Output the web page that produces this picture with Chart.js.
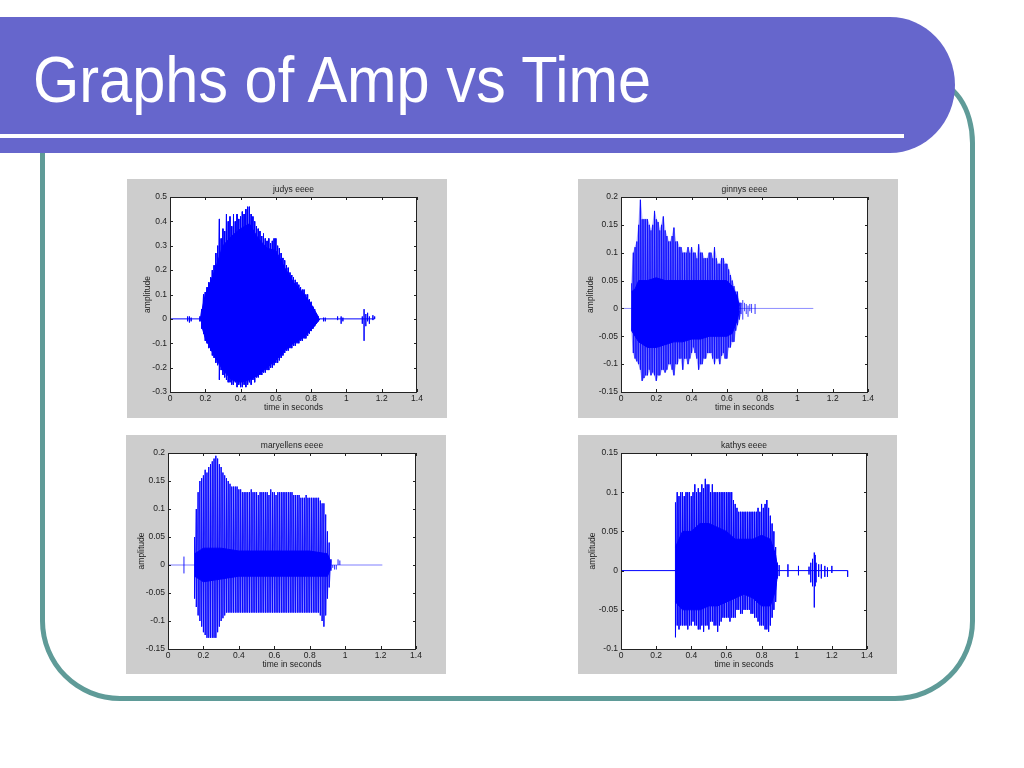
<!DOCTYPE html>
<html>
<head>
<meta charset="utf-8">
<script src="https://cdn.jsdelivr.net/npm/chart.js@4.4.1/dist/chart.umd.min.js"></script>
<style>
body { margin:0; width:1024px; height:768px; background:#fff; position:relative; overflow:hidden; font-family:"Liberation Sans", Arial, sans-serif; }
#frame { position:absolute; left:40px; top:78px; width:935px; height:623px; box-sizing:border-box; border:5px solid #5f9b98; border-radius:0 45px 80px 80px / 0 65px 80px 80px; }
#banner { position:absolute; left:0; top:17px; width:955px; height:136px; background:#6666cc; border-radius:0 65px 65px 0 / 0 68px 68px 0; }
#rule { position:absolute; left:0; top:134px; width:904px; height:4px; background:#fff; }
#title { position:absolute; left:33px; top:47px; font-size:65px; line-height:65px; color:#fff; transform:scaleX(0.915); transform-origin:0 0; white-space:nowrap; }
.panel { position:absolute; background:#cdcdcd; }
</style>
</head>
<body>
<div id="frame"></div>
<div id="banner"></div>
<div id="rule"></div>
<div id="title">Graphs of Amp vs Time</div>
<canvas id="c1" class="panel" width="320" height="239" style="left:127px;top:179px"></canvas>
<canvas id="c2" class="panel" width="320" height="239" style="left:578px;top:179px"></canvas>
<canvas id="c3" class="panel" width="320" height="239" style="left:126px;top:435px"></canvas>
<canvas id="c4" class="panel" width="319" height="239" style="left:578px;top:435px"></canvas>
<script>
// shared tick labels
var timeTicks = [0, 0.2, 0.4, 0.6, 0.8, 1, 1.2, 1.4];

// ---- judys eeee ----
var judyTime = [0.17,0.18,0.19,0.20,0.21,0.22,0.23,0.24,0.25,0.26,0.27,0.28,0.29,0.30,0.31,0.32,0.33,0.34,0.35,0.36,0.37,0.38,0.39,0.40,0.41,0.42,0.43,0.44,0.45,0.46,0.47,0.48,0.49,0.50,0.51,0.52,0.53,0.54,0.55,0.56,0.57,0.58,0.59,0.60,0.61,0.62,0.63,0.64,0.65,0.66,0.67,0.68,0.69,0.70,0.71,0.72,0.73,0.74,0.75,0.76,0.77,0.78,0.79,0.80,0.81,0.82,0.83,0.84,0.85];
var judyUp = [0.01,0.04,0.10,0.11,0.13,0.15,0.17,0.20,0.22,0.27,0.30,0.41,0.33,0.37,0.36,0.43,0.40,0.42,0.38,0.43,0.40,0.43,0.41,0.42,0.44,0.43,0.45,0.46,0.46,0.43,0.42,0.40,0.38,0.37,0.36,0.34,0.35,0.33,0.32,0.33,0.31,0.32,0.33,0.33,0.30,0.29,0.27,0.25,0.24,0.22,0.21,0.19,0.18,0.17,0.16,0.15,0.14,0.13,0.12,0.12,0.10,0.10,0.08,0.07,0.05,0.04,0.02,0.01,0.00];
var judyLow = [-0.01,-0.04,-0.06,-0.09,-0.10,-0.12,-0.13,-0.15,-0.16,-0.18,-0.19,-0.25,-0.21,-0.23,-0.24,-0.25,-0.26,-0.26,-0.27,-0.27,-0.26,-0.28,-0.27,-0.28,-0.28,-0.27,-0.28,-0.27,-0.26,-0.27,-0.25,-0.26,-0.24,-0.24,-0.23,-0.23,-0.22,-0.22,-0.21,-0.21,-0.20,-0.20,-0.19,-0.18,-0.18,-0.17,-0.16,-0.15,-0.14,-0.13,-0.13,-0.12,-0.12,-0.11,-0.11,-0.10,-0.10,-0.09,-0.09,-0.08,-0.08,-0.07,-0.06,-0.05,-0.04,-0.03,-0.02,-0.01,0.00];
var judyCoreTime = [0.18,0.20,0.25,0.30,0.35,0.40,0.45,0.50,0.55,0.60,0.65,0.70,0.75,0.80,0.84];
var judyCoreUp = [0.03,0.10,0.19,0.30,0.34,0.37,0.39,0.33,0.29,0.28,0.21,0.15,0.11,0.06,0.01];
var judyCoreLow = [-0.03,-0.08,-0.15,-0.21,-0.25,-0.26,-0.25,-0.23,-0.20,-0.17,-0.13,-0.10,-0.08,-0.045,-0.01];
var judyBlipTime = [0.10,0.11,0.12,0.87,0.88,0.95,0.97,0.98,1.09,1.10,1.11,1.12,1.13,1.15,1.16];
var judyBlipHi = [0.01,0.01,0.005,0.005,0.005,0.01,0.01,0.005,0.01,0.04,0.02,0.025,0.01,0.015,0.01];
var judyBlipLo = [-0.01,-0.015,-0.01,-0.01,-0.01,-0.005,-0.02,-0.01,-0.02,-0.09,-0.03,-0.01,-0.02,-0.005,0];
var judyEnd = 1.16;
var judyTicks = [-0.3, -0.2, -0.1, 0, 0.1, 0.2, 0.3, 0.4, 0.5];

// ---- ginnys eeee ----
var ginnyTime = [0.06,0.07,0.08,0.09,0.10,0.11,0.12,0.13,0.14,0.15,0.16,0.17,0.18,0.19,0.20,0.21,0.22,0.23,0.24,0.25,0.26,0.27,0.28,0.29,0.30,0.31,0.32,0.33,0.34,0.35,0.36,0.37,0.38,0.39,0.40,0.41,0.42,0.43,0.44,0.45,0.46,0.47,0.48,0.49,0.50,0.51,0.52,0.53,0.54,0.55,0.56,0.57,0.58,0.59,0.60,0.61,0.62,0.63,0.64,0.65,0.66,0.67,0.68];
var ginnyUp = [0.045,0.10,0.11,0.12,0.15,0.195,0.16,0.16,0.16,0.16,0.15,0.14,0.15,0.175,0.16,0.155,0.14,0.15,0.165,0.14,0.13,0.12,0.12,0.13,0.145,0.12,0.12,0.11,0.11,0.10,0.10,0.10,0.11,0.10,0.11,0.10,0.10,0.09,0.115,0.10,0.10,0.09,0.09,0.09,0.10,0.10,0.09,0.11,0.09,0.08,0.08,0.09,0.09,0.08,0.08,0.07,0.06,0.05,0.04,0.03,0.03,0.01,0.01];
var ginnyLow = [-0.04,-0.08,-0.09,-0.095,-0.10,-0.11,-0.13,-0.125,-0.12,-0.12,-0.11,-0.12,-0.115,-0.12,-0.13,-0.12,-0.12,-0.11,-0.11,-0.115,-0.11,-0.10,-0.10,-0.11,-0.12,-0.10,-0.10,-0.09,-0.09,-0.11,-0.09,-0.09,-0.10,-0.09,-0.08,-0.07,-0.08,-0.09,-0.11,-0.10,-0.10,-0.09,-0.09,-0.08,-0.08,-0.08,-0.09,-0.10,-0.09,-0.09,-0.10,-0.085,-0.08,-0.09,-0.09,-0.07,-0.07,-0.06,-0.06,-0.04,-0.03,-0.02,-0.01];
var ginnyCoreTime = [0.06,0.08,0.10,0.15,0.20,0.25,0.30,0.35,0.40,0.45,0.50,0.55,0.60,0.63,0.66,0.67];
var ginnyCoreUp = [0.03,0.035,0.05,0.05,0.055,0.05,0.05,0.05,0.05,0.05,0.05,0.05,0.05,0.04,0.02,0.005];
var ginnyCoreLow = [-0.04,-0.05,-0.06,-0.07,-0.07,-0.065,-0.06,-0.06,-0.055,-0.055,-0.05,-0.05,-0.05,-0.045,-0.02,-0.005];
var ginnyBlipTime = [0.69,0.70,0.71,0.72,0.73,0.74,0.76];
var ginnyBlipHi = [0.015,0.01,0.008,0.005,0.008,0.008,0.008];
var ginnyBlipLo = [-0.02,-0.005,-0.01,-0.015,-0.005,-0.008,-0.01];
var ginnyEnd = 1.09;
var ginnyTicks = [-0.15, -0.1, -0.05, 0, 0.05, 0.1, 0.15, 0.2];

// ---- maryellens eeee ----
var maryTime = [0.15,0.16,0.17,0.18,0.19,0.20,0.21,0.22,0.23,0.24,0.25,0.26,0.27,0.28,0.29,0.30,0.31,0.32,0.33,0.34,0.35,0.36,0.37,0.38,0.39,0.40,0.41,0.42,0.43,0.44,0.45,0.46,0.47,0.48,0.49,0.50,0.51,0.52,0.53,0.54,0.55,0.56,0.57,0.58,0.59,0.60,0.61,0.62,0.63,0.64,0.65,0.66,0.67,0.68,0.69,0.70,0.71,0.72,0.73,0.74,0.75,0.76,0.77,0.78,0.79,0.80,0.81,0.82,0.83,0.84,0.85,0.86,0.87,0.88,0.89,0.90,0.91,0.92];
var maryUp = [0.05,0.10,0.13,0.15,0.155,0.16,0.17,0.165,0.175,0.18,0.185,0.19,0.195,0.19,0.18,0.175,0.165,0.16,0.155,0.15,0.145,0.14,0.14,0.14,0.14,0.135,0.135,0.13,0.13,0.13,0.13,0.13,0.135,0.13,0.13,0.13,0.125,0.13,0.13,0.13,0.13,0.13,0.125,0.135,0.13,0.13,0.125,0.13,0.13,0.13,0.13,0.13,0.13,0.13,0.13,0.13,0.125,0.125,0.125,0.125,0.12,0.12,0.12,0.125,0.12,0.12,0.12,0.12,0.12,0.12,0.12,0.115,0.11,0.11,0.09,0.06,0.04,0.01];
var maryLow = [-0.06,-0.075,-0.09,-0.10,-0.11,-0.12,-0.125,-0.13,-0.13,-0.13,-0.13,-0.13,-0.13,-0.12,-0.11,-0.10,-0.095,-0.09,-0.085,-0.085,-0.085,-0.085,-0.085,-0.085,-0.085,-0.085,-0.085,-0.085,-0.085,-0.085,-0.085,-0.085,-0.085,-0.085,-0.085,-0.085,-0.085,-0.085,-0.085,-0.085,-0.085,-0.085,-0.085,-0.085,-0.085,-0.085,-0.085,-0.085,-0.085,-0.085,-0.085,-0.085,-0.085,-0.085,-0.085,-0.085,-0.085,-0.085,-0.085,-0.085,-0.085,-0.085,-0.085,-0.085,-0.085,-0.085,-0.085,-0.085,-0.085,-0.085,-0.085,-0.09,-0.10,-0.11,-0.09,-0.06,-0.04,-0.01];
var maryCoreTime = [0.15,0.20,0.30,0.40,0.50,0.60,0.70,0.80,0.90,0.92];
var maryCoreUp = [0.02,0.03,0.03,0.025,0.025,0.025,0.025,0.025,0.02,0.005];
var maryCoreLow = [-0.02,-0.03,-0.025,-0.02,-0.02,-0.02,-0.02,-0.02,-0.02,-0.005];
var maryBlipTime = [0.09,0.93,0.94,0.95,0.96,0.97];
var maryBlipHi = [0.015,0,0,0,0.01,0.008];
var maryBlipLo = [-0.015,-0.005,-0.008,-0.008,0,0];
var maryEnd = 1.21;
var maryTicks = [-0.15, -0.1, -0.05, 0, 0.05, 0.1, 0.15, 0.2];

// ---- kathys eeee ----
var kathyTime = [0.31,0.32,0.33,0.34,0.35,0.36,0.37,0.38,0.39,0.40,0.41,0.42,0.43,0.44,0.45,0.46,0.47,0.48,0.49,0.50,0.51,0.52,0.53,0.54,0.55,0.56,0.57,0.58,0.59,0.60,0.61,0.62,0.63,0.64,0.65,0.66,0.67,0.68,0.69,0.70,0.71,0.72,0.73,0.74,0.75,0.76,0.77,0.78,0.79,0.80,0.81,0.82,0.83,0.84,0.85,0.86,0.87,0.88,0.89];
var kathyUp = [0.087,0.10,0.095,0.10,0.10,0.095,0.10,0.10,0.10,0.095,0.10,0.11,0.10,0.105,0.10,0.11,0.105,0.117,0.11,0.11,0.10,0.11,0.10,0.10,0.10,0.10,0.10,0.10,0.10,0.10,0.10,0.10,0.10,0.09,0.085,0.08,0.075,0.075,0.075,0.075,0.075,0.075,0.075,0.075,0.075,0.075,0.075,0.08,0.075,0.085,0.08,0.085,0.09,0.08,0.07,0.06,0.05,0.03,0.01];
var kathyLow = [-0.085,-0.07,-0.075,-0.07,-0.07,-0.07,-0.07,-0.075,-0.07,-0.07,-0.065,-0.07,-0.07,-0.075,-0.075,-0.07,-0.078,-0.07,-0.07,-0.075,-0.065,-0.065,-0.07,-0.07,-0.078,-0.07,-0.065,-0.06,-0.06,-0.06,-0.06,-0.065,-0.06,-0.06,-0.06,-0.05,-0.05,-0.055,-0.055,-0.05,-0.05,-0.05,-0.05,-0.055,-0.055,-0.06,-0.06,-0.065,-0.07,-0.07,-0.07,-0.075,-0.075,-0.078,-0.07,-0.06,-0.05,-0.04,-0.01];
var kathyCoreTime = [0.31,0.35,0.40,0.45,0.50,0.55,0.60,0.65,0.70,0.75,0.80,0.85,0.88,0.89];
var kathyCoreUp = [0.03,0.05,0.05,0.06,0.06,0.055,0.05,0.04,0.04,0.04,0.045,0.04,0.02,0.005];
var kathyCoreLow = [-0.04,-0.05,-0.05,-0.05,-0.045,-0.045,-0.04,-0.035,-0.03,-0.035,-0.045,-0.045,-0.025,-0.005];
var kathyBlipTime = [0.90,0.95,1.01,1.07,1.08,1.09,1.10,1.105,1.11,1.125,1.14,1.16,1.175,1.20,1.29];
var kathyBlipHi = [0.007,0.008,0.006,0.005,0.01,0.015,0.023,0.02,0.01,0.008,0.008,0.006,0.004,0.006,0];
var kathyBlipLo = [-0.007,-0.008,-0.006,-0.005,-0.015,-0.02,-0.047,-0.02,-0.015,-0.008,-0.01,-0.008,-0.008,-0.003,-0.008];
var kathyEnd = 1.29;
var kathyTicks = [-0.1, -0.05, 0, 0.05, 0.1, 0.15];

function zigzag(time, up, low) {
    var pts = [];
    for (var i = 0; i < time.length; i++) {
        pts.push({x: time[i], y: up[i]});
        pts.push({x: time[i], y: low[i]});
    }
    return pts;
}

function quietLine(time, hi, lo, end) {
    var pts = [{x: 0, y: 0}];
    for (var i = 0; i < time.length; i++) {
        pts.push({x: time[i], y: 0});
        pts.push({x: time[i], y: hi[i]});
        pts.push({x: time[i], y: lo[i]});
        pts.push({x: time[i], y: 0});
    }
    pts.push({x: end, y: 0});
    return pts;
}

function band(time, vals) {
    return time.map(function (t, i) { return {x: t, y: vals[i]}; });
}

function fmt(v) { return String(Number(v.toFixed(2))); }

// matlab style: white plot box, inward ticks, small title
var matlabAxes = {
    id: 'matlabAxes',
    beforeDraw: function (chart) {
        var a = chart.chartArea, ctx = chart.ctx;
        ctx.save();
        ctx.fillStyle = '#ffffff';
        ctx.fillRect(a.left, a.top, a.right - a.left, a.bottom - a.top);
        ctx.restore();
    },
    afterDraw: function (chart, args, opts) {
        var a = chart.chartArea, ctx = chart.ctx;
        ctx.save();
        ctx.strokeStyle = '#222';
        ctx.lineWidth = 1;
        ctx.strokeRect(a.left + 0.5, a.top + 0.5, a.right - a.left - 1, a.bottom - a.top);
        ctx.beginPath();
        chart.scales.x.ticks.forEach(function (t) {
            var px = Math.round(chart.scales.x.getPixelForValue(t.value)) + 0.5;
            ctx.moveTo(px, a.bottom); ctx.lineTo(px, a.bottom - 3);
            ctx.moveTo(px, a.top); ctx.lineTo(px, a.top + 3);
        });
        chart.scales.y.ticks.forEach(function (t) {
            var py = Math.round(chart.scales.y.getPixelForValue(t.value)) + 0.5;
            ctx.moveTo(a.left, py); ctx.lineTo(a.left + 3, py);
            ctx.moveTo(a.right, py); ctx.lineTo(a.right - 3, py);
        });
        ctx.stroke();
        ctx.fillStyle = '#222';
        ctx.font = '8.5px "Liberation Sans", Arial, sans-serif';
        ctx.textAlign = 'center';
        ctx.textBaseline = 'middle';
        ctx.fillText(opts.title, (a.left + a.right) / 2, a.top - 7);
        ctx.restore();
    }
};

function makeChart(id, c) {
    var tickFont = {family: '"Liberation Sans", Arial, sans-serif', size: 8.5};
    var sets = [
        {data: band(c.coreTime, c.coreUp), borderColor: '#0000ff', backgroundColor: '#0000ff', borderWidth: 1, fill: '+1', order: 1},
        {data: band(c.coreTime, c.coreLow), borderColor: '#0000ff', borderWidth: 1, fill: false, order: 1},
        {data: zigzag(c.time, c.up, c.low), borderColor: c.spike, borderWidth: 1, fill: false, order: 2},
        {data: quietLine(c.blipTime, c.blipHi, c.blipLo, c.end), borderColor: c.base, borderWidth: 1, fill: false, order: 3}
    ];
    if (c.haze) {
        // faint wash between the peak envelopes (dense thin spikes)
        sets.push({data: band(c.time, c.up), borderColor: c.haze, backgroundColor: c.haze, borderWidth: 1, fill: '+1', order: 4});
        sets.push({data: band(c.time, c.low), borderColor: c.haze, borderWidth: 1, fill: false, order: 4});
    }
    return new Chart(document.getElementById(id), {
        type: 'line',
        data: {datasets: sets},
        options: {
            responsive: false,
            animation: false,
            events: [],
            elements: {point: {radius: 0}, line: {tension: 0}},
            layout: {padding: {top: 18, right: 30, left: 0, bottom: 0}},
            plugins: {
                legend: {display: false},
                tooltip: {enabled: false},
                filler: {propagate: false},
                matlabAxes: {title: c.title}
            },
            scales: {
                x: {
                    type: 'linear', min: 0, max: 1.4,
                    afterBuildTicks: function (s) { s.ticks = timeTicks.map(function (v) { return {value: v}; }); },
                    afterFit: function (s) { s.height = c.xh; },
                    grid: {display: false, drawTicks: false, tickLength: 0}, border: {display: false},
                    ticks: {font: tickFont, color: '#222', padding: 2, maxRotation: 0, callback: fmt},
                    title: {display: true, text: 'time in seconds', font: tickFont, color: '#222', padding: {top: 0, bottom: c.xPad}}
                },
                y: {
                    min: c.ticks[0], max: c.ticks[c.ticks.length - 1],
                    afterBuildTicks: function (s) { s.ticks = c.ticks.map(function (v) { return {value: v}; }); },
                    afterFit: function (s) { s.width = c.yw; },
                    grid: {display: false, drawTicks: false, tickLength: 0}, border: {display: false},
                    ticks: {font: tickFont, color: '#222', padding: 3, callback: fmt},
                    title: {display: true, text: 'amplitude', font: tickFont, color: '#222', padding: {top: c.yPad, bottom: 0}}
                }
            }
        },
        plugins: [matlabAxes]
    });
}

makeChart('c1', {title: 'judys eeee', time: judyTime, up: judyUp, low: judyLow, coreTime: judyCoreTime, coreUp: judyCoreUp, coreLow: judyCoreLow,
    blipTime: judyBlipTime, blipHi: judyBlipHi, blipLo: judyBlipLo, end: judyEnd, ticks: judyTicks,
    spike: '#0000ff', base: '#0000ff', xh: 26, yw: 43, xPad: 5, yPad: 16});
makeChart('c2', {title: 'ginnys eeee', time: ginnyTime, up: ginnyUp, low: ginnyLow, coreTime: ginnyCoreTime, coreUp: ginnyCoreUp, coreLow: ginnyCoreLow,
    blipTime: ginnyBlipTime, blipHi: ginnyBlipHi, blipLo: ginnyBlipLo, end: ginnyEnd, ticks: ginnyTicks,
    spike: 'rgba(0,0,255,0.5)', base: 'rgba(0,0,255,0.45)', haze: 'rgba(110,110,255,0.45)', xh: 26, yw: 43, xPad: 5, yPad: 8});
makeChart('c3', {title: 'maryellens eeee', time: maryTime, up: maryUp, low: maryLow, coreTime: maryCoreTime, coreUp: maryCoreUp, coreLow: maryCoreLow,
    blipTime: maryBlipTime, blipHi: maryBlipHi, blipLo: maryBlipLo, end: maryEnd, ticks: maryTicks,
    spike: 'rgba(0,0,255,0.62)', base: 'rgba(0,0,255,0.5)', xh: 25, yw: 42, xPad: 4, yPad: 11});
makeChart('c4', {title: 'kathys eeee', time: kathyTime, up: kathyUp, low: kathyLow, coreTime: kathyCoreTime, coreUp: kathyCoreUp, coreLow: kathyCoreLow,
    blipTime: kathyBlipTime, blipHi: kathyBlipHi, blipLo: kathyBlipLo, end: kathyEnd, ticks: kathyTicks,
    spike: 'rgba(0,0,255,0.72)', base: '#0000ff', xh: 25, yw: 43, xPad: 4, yPad: 10});
</script>
</body>
</html>
